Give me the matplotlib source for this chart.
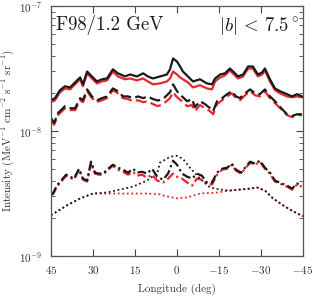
import numpy as np
import matplotlib
matplotlib.use("Agg")
import matplotlib.pyplot as plt

plt.rcParams.update({
    "font.family": "serif",
    "font.serif": ["cmr10", "DejaVu Serif"],
    "mathtext.fontset": "cm",
    "axes.formatter.use_mathtext": True,
    "axes.unicode_minus": True,
    "font.size": 8,
})

# upper group: solid (total) and dashed, black and red
lon_up = [45, 43.6, 41.8, 40.0, 38.2, 35.7, 34.6, 33.6, 32.1, 30.4, 28.6, 26.8, 25.0,
          22.9, 21.1, 18.6, 16.8, 14.3, 12.1, 10.4, 8.6, 6.1, 3.6, 2.5, 1.4, 0.0,
          -1.1, -2.1, -3.9, -5.7, -8.2, -10.7, -12.5, -13.6, -15.4, -17.1, -18.9,
          -20.7, -21.8, -23.6, -25.4, -27.1, -28.9, -30.4, -31.4, -33.2, -35.0,
          -36.8, -39.3, -41.1, -42.9, -44.6]
solid_black = [1.76, 1.83, 2.12, 2.28, 2.23, 2.54, 2.68, 2.36, 2.99, 2.73, 2.49, 2.59, 2.63,
               3.11, 2.89, 2.73, 2.83, 2.73, 2.89, 2.73, 2.63, 2.73, 2.83, 3.11, 3.80, 3.59,
               3.28, 2.99, 2.73, 2.49, 2.59, 2.40, 2.36, 2.63, 2.83, 2.89, 3.16,
               2.89, 2.73, 2.83, 3.28, 3.28, 2.83, 2.94, 3.16, 2.59, 2.19,
               2.08, 1.97, 1.89, 1.97, 1.89]
solid_red = [1.70, 1.76, 2.04, 2.19, 2.15, 2.45, 2.59, 2.28, 2.89, 2.63, 2.40, 2.49, 2.54,
             2.99, 2.73, 2.59, 2.63, 2.54, 2.63, 2.49, 2.36, 2.40, 2.49, 2.63, 2.99, 2.83,
             2.68, 2.59, 2.45, 2.23, 2.32, 2.19, 2.15, 2.49, 2.68, 2.78, 3.05,
             2.78, 2.63, 2.73, 3.16, 3.16, 2.73, 2.83, 3.05, 2.49, 2.12,
             2.00, 1.89, 1.86, 1.89, 1.86]

lon_mid = [45, 43.9, 42.5, 40.0, 38.2, 36.4, 34.6, 33.6, 32.1, 30.4, 28.6, 26.8, 25.0,
           22.9, 21.1, 19.3, 17.5, 15.7, 13.9, 12.1, 10.4, 8.6, 6.8, 5.0, 2.5, 1.4, 0.0,
           -1.8, -3.6, -5.4, -6.4, -8.2, -10.0, -11.8, -12.9, -14.3, -16.1, -17.9,
           -19.6, -21.1, -22.5, -24.3, -26.1, -27.9, -29.6, -31.4, -33.2, -35.0,
           -37.5, -39.3, -41.1, -42.9, -44.6]
dash_black = [1.27, 1.16, 1.39, 1.58, 1.52, 1.52, 1.83, 1.76, 2.15, 1.89, 1.76, 1.83, 1.89,
              2.19, 2.08, 1.89, 1.89, 1.83, 1.89, 1.83, 1.89, 1.80, 1.75, 1.80, 2.04, 2.36, 2.08,
              1.89, 1.73, 1.80, 1.55, 1.73, 1.64, 1.52, 1.44, 1.73, 1.83, 1.97,
              2.08, 1.89, 1.83, 2.00, 2.15, 2.00, 1.97, 2.15, 1.89, 1.73,
              1.50, 1.36, 1.32, 1.36, 1.36]
dash_red = [1.22, 1.12, 1.34, 1.52, 1.47, 1.47, 1.76, 1.70, 2.08, 1.83, 1.70, 1.76, 1.83,
            2.12, 2.00, 1.83, 1.80, 1.73, 1.76, 1.70, 1.73, 1.64, 1.58, 1.64, 1.83, 2.04, 1.86,
            1.73, 1.58, 1.61, 1.44, 1.61, 1.52, 1.44, 1.36, 1.64, 1.76, 1.89,
            2.00, 1.83, 1.76, 1.93, 2.08, 1.93, 1.89, 2.08, 1.83, 1.67,
            1.47, 1.34, 1.29, 1.34, 1.34]

# lower group: dash-dot, black and red
lon_low = [45, 44.3, 42.9, 41.1, 39.6, 38.2, 36.8, 35.0, 33.6, 32.1, 30.7, 29.3, 27.9,
           26.4, 24.6, 22.9, 21.1, 19.3, 17.5, 15.7, 14.3, 12.5, 10.7, 8.9, 7.1, 5.0,
           3.2, 1.4, 0.0, -1.8, -3.6, -5.4, -7.1, -8.9, -10.7, -12.5, -14.3, -16.1,
           -17.9, -19.6, -21.1, -22.9, -24.3, -26.1, -27.9, -29.6, -31.4, -33.2,
           -35.0, -37.5, -39.3, -41.1, -42.9, -44.6]
dd_black = [3.16, 3.16, 3.66, 4.08, 4.47, 4.31, 4.16, 4.99, 4.16, 4.01, 5.68, 4.64, 4.56,
            4.56, 4.99, 5.37, 5.09, 4.90, 4.64, 4.99, 4.64, 4.72, 4.56, 4.99, 4.31, 4.08,
            4.56, 5.78, 5.37, 4.56, 4.31, 4.16, 4.56, 4.39, 3.87, 3.87, 4.64, 4.99,
            5.09, 5.47, 4.90, 4.64, 5.09, 5.68, 5.47, 5.78, 5.09, 4.64,
            4.01, 3.80, 3.66, 3.46, 3.80, 3.66]
dd_red = [3.11, 3.11, 3.59, 4.01, 4.39, 4.24, 4.08, 4.90, 4.08, 3.94, 5.57, 4.56, 4.47,
          4.47, 4.90, 5.28, 4.90, 4.72, 4.47, 4.72, 4.39, 4.47, 4.24, 4.47, 4.01, 3.87,
          4.16, 4.56, 4.31, 4.16, 3.87, 3.66, 4.16, 4.08, 3.80, 3.73, 4.47, 4.90,
          4.99, 5.37, 4.81, 4.56, 4.99, 5.57, 5.37, 5.68, 4.99, 4.56,
          3.94, 3.73, 3.59, 3.40, 3.73, 3.59]

# smooth dotted components
lon_dot_k = [45, 39.3, 34.6, 30.0, 25.0, 20.4, 15.7, 10.7, 9.6, 7.1, 6.1, 2.5, 0.0,
             -2.1, -4.6, -8.2, -11.8, -15.4, -18.9, -22.5, -26.1, -28.6, -31.4,
             -34.3, -37.9, -41.4, -45]
dot_black = [2.12, 2.54, 2.89, 3.16, 3.22, 3.40, 3.59, 4.01, 4.20, 4.56, 5.57, 6.22, 6.33,
             5.99, 5.09, 4.16, 3.53, 3.40, 3.34, 3.40, 3.46, 3.53, 3.34,
             2.89, 2.54, 2.28, 2.08]
lon_dot_r = [45, 39.3, 34.6, 30.0, 25.0, 20.4, 15.7, 10.7, 6.1, 5.0, 0.0, -3.6, -8.2,
             -14.3, -18.9, -22.5, -26.1, -28.6, -31.4, -34.3, -37.9, -41.4, -45]
dot_red = [2.12, 2.54, 2.89, 3.16, 3.16, 3.16, 3.16, 3.16, 3.11, 3.05, 2.89, 2.94, 3.16,
           3.22, 3.34, 3.40, 3.46, 3.53, 3.34, 2.89, 2.54, 2.28, 2.08]

RED = "#e8262c"
BLK = "#1a1a1a"
fig = plt.figure(figsize=(3.13, 2.97), dpi=100)
ax = fig.add_axes([0.163, 0.138, 0.805, 0.842])

dd = (0, (4, 1.5, 1, 1.5))
ax.plot(lon_up, np.array(solid_red) * 1e-8, color=RED, lw=1.6)
ax.plot(lon_up, np.array(solid_black) * 1e-8, color=BLK, lw=1.6)
ax.plot(lon_mid, np.array(dash_red) * 1e-8, color=RED, lw=1.6, ls=(0, (5, 2)))
ax.plot(lon_mid, np.array(dash_black) * 1e-8, color=BLK, lw=1.6, ls=(0, (5, 2)))
ax.plot(lon_low, np.array(dd_red) * 1e-9, color=RED, lw=1.6, ls=dd)
ax.plot(lon_low, np.array(dd_black) * 1e-9, color=BLK, lw=1.6, ls=dd)
ax.plot(lon_dot_r, np.array(dot_red) * 1e-9, color=RED, lw=1.3, ls=(0, (1, 1.5)))
ax.plot(lon_dot_k, np.array(dot_black) * 1e-9, color=BLK, lw=1.3, ls=(0, (1, 1.5)))

ax.set_yscale("log")
ax.set_ylim(1e-9, 1e-7)
ax.set_xlim(45, -45)
ax.set_xticks([45, 30, 15, 0, -15, -30, -45])
ax.tick_params(which="both", direction="in", top=True, right=True, colors="#444444",
               labelcolor="#333333", labelsize=8, pad=6)
ax.tick_params(which="major", length=5, width=0.8)
ax.tick_params(which="minor", length=3, width=0.6)
for s in ax.spines.values():
    s.set_color("#555555")
    s.set_linewidth(0.9)

ax.set_xlabel("Longitude (deg)", fontsize=8, color="#333333", labelpad=5)
ax.set_ylabel(r"Intensity (MeV$^{-1}$ cm$^{-2}$ s$^{-1}$ sr$^{-1}$)", fontsize=8,
              color="#333333")
ax.yaxis.set_label_coords(-0.14, 0.5)

ax.text(0.02, 0.965, "F98/1.2 GeV", transform=ax.transAxes, fontsize=13.5,
        ha="left", va="top", color=BLK)
ax.text(0.985, 0.965, r"$|b|\,<\,7.5^\circ$", transform=ax.transAxes, fontsize=13.5,
        ha="right", va="top", color=BLK)

fig.savefig("out.png", dpi=100)
